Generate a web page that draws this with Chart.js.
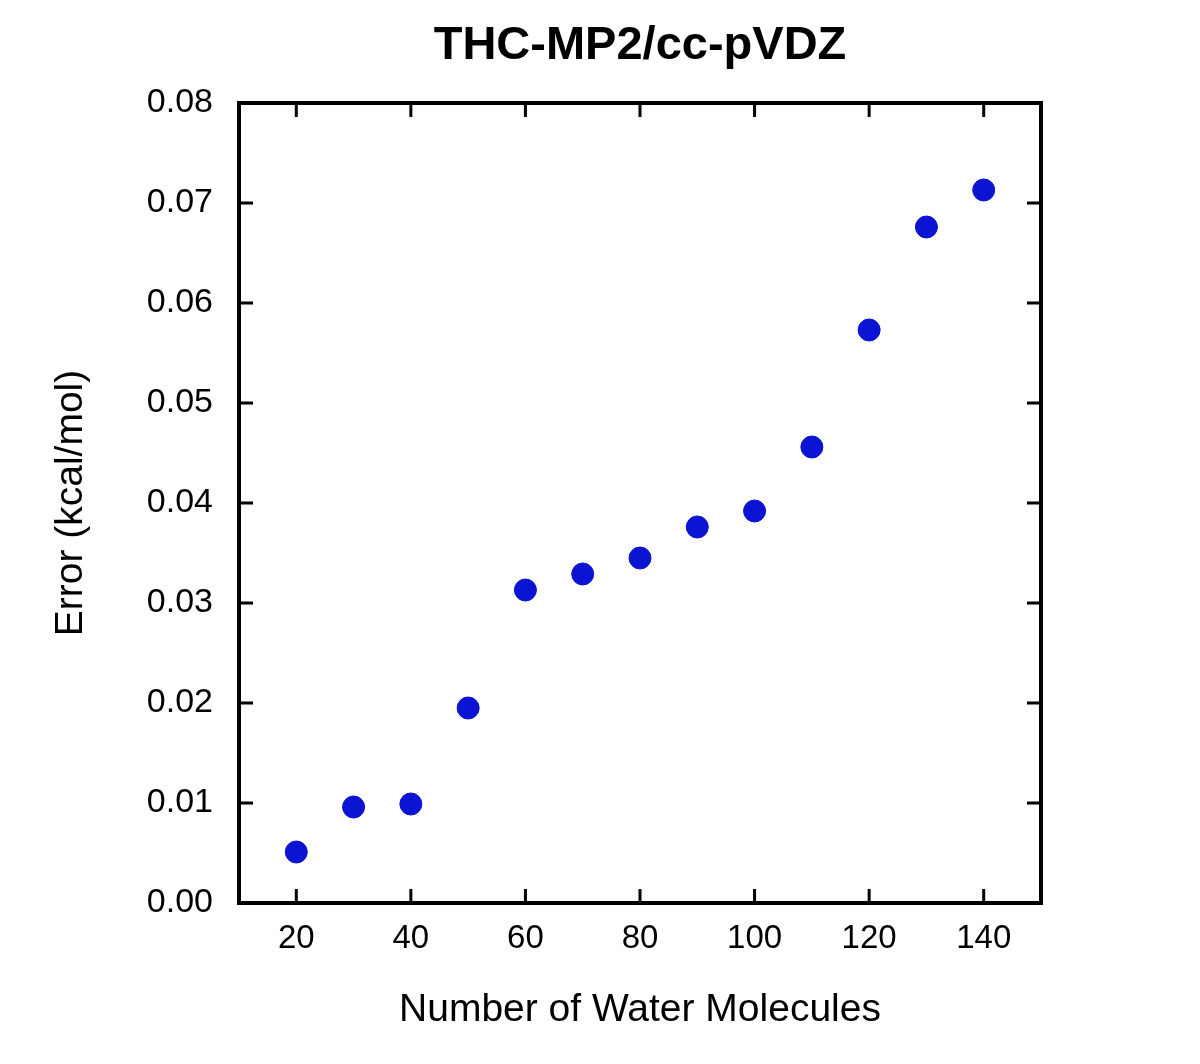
<!DOCTYPE html>
<html>
<head>
<meta charset="utf-8">
<script src="https://cdn.jsdelivr.net/npm/chart.js@4/dist/chart.umd.min.js"></script>
<style>
  body { margin: 0; background: #fff; }
  canvas { display: block; }
</style>
</head>
<body>
<canvas id="chart" width="1200" height="1064"></canvas>
<script>
var molecules = [20, 30, 40, 50, 60, 70, 80, 90, 100, 110, 120, 130, 140];
var errors = [0.0051, 0.0096, 0.0099, 0.0195, 0.0313, 0.0329, 0.0345, 0.0376, 0.0392, 0.0456, 0.0573, 0.0676, 0.0713];
var xTicks = [20, 40, 60, 80, 100, 120, 140];
var yTicks = [0, 0.01, 0.02, 0.03, 0.04, 0.05, 0.06, 0.07, 0.08];

var font = "'Liberation Sans', Arial, sans-serif";

// title, frame and inward ticks on all four sides
var framePlugin = {
    id: 'frame',
    afterDraw: function (chart) {
        var c = chart.ctx, a = chart.chartArea;
        var xs = chart.scales.x, ys = chart.scales.y;
        c.save();
        c.fillStyle = '#000';
        c.font = 'bold 47px ' + font;
        c.textAlign = 'center';
        c.textBaseline = 'middle';
        c.fillText('THC-MP2/cc-pVDZ', (a.left + a.right) / 2, 46);
        c.strokeStyle = '#000';
        c.lineWidth = 4;
        c.strokeRect(a.left, a.top, a.right - a.left, a.bottom - a.top);
        c.lineWidth = 3;
        c.beginPath();
        xTicks.forEach(function (v) {
            var px = xs.getPixelForValue(v);
            c.moveTo(px, a.bottom); c.lineTo(px, a.bottom - 14);
            c.moveTo(px, a.top); c.lineTo(px, a.top + 14);
        });
        yTicks.forEach(function (v) {
            var py = ys.getPixelForValue(v);
            c.moveTo(a.left, py); c.lineTo(a.left + 14, py);
            c.moveTo(a.right, py); c.lineTo(a.right - 14, py);
        });
        c.stroke();
        c.restore();
    }
};

var chart = new Chart(document.getElementById('chart').getContext('2d'), {
    type: 'scatter',
    data: {
        datasets: [{
            data: molecules.map(function (m, i) { return { x: m, y: errors[i] }; }),
            backgroundColor: '#0a14d2',
            borderColor: '#0a14d2',
            pointRadius: 11
        }]
    },
    options: {
        responsive: false,
        animation: false,
        layout: { padding: { top: 103, right: 159, bottom: 26, left: 44 } },
        plugins: {
            legend: { display: false },
            tooltip: { enabled: false }
        },
        scales: {
            x: {
                type: 'linear', min: 10, max: 150,
                afterBuildTicks: function (s) { s.ticks = xTicks.map(function (v) { return { value: v }; }); },
                afterFit: function (s) { s.height = 135; },
                grid: { display: false },
                border: { display: false },
                ticks: { color: '#000', font: { family: font, size: 33 }, padding: 8 },
                title: { display: true, text: 'Number of Water Molecules', color: '#000',
                         font: { family: font, size: 39 }, padding: { top: 24 } }
            },
            y: {
                min: 0, max: 0.08,
                afterBuildTicks: function (s) { s.ticks = yTicks.map(function (v) { return { value: v }; }); },
                afterFit: function (s) { s.width = 195; },
                grid: { display: false },
                border: { display: false },
                ticks: { color: '#000', font: { family: font, size: 34 }, padding: 18,
                         callback: function (v) { return v.toFixed(2); } },
                title: { display: true, text: 'Error (kcal/mol)', color: '#000',
                         font: { family: font, size: 39 }, padding: { bottom: 30 } }
            }
        }
    },
    plugins: [framePlugin]
});
</script>
</body>
</html>
